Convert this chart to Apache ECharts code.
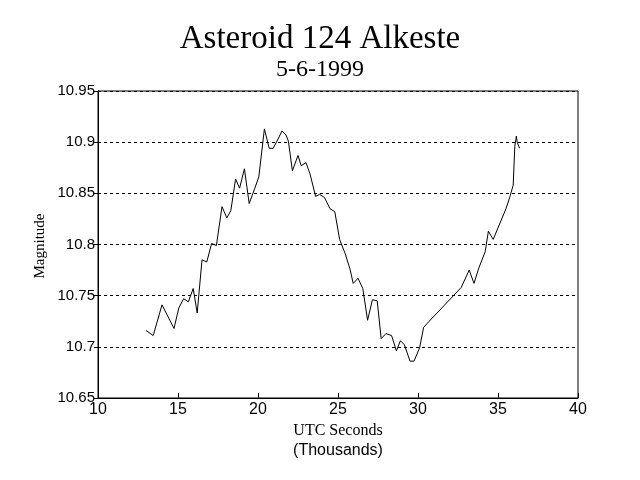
<!DOCTYPE html>
<html>
<head>
<meta charset="utf-8">
<script src="https://cdn.jsdelivr.net/npm/echarts@6/dist/echarts.min.js"></script>
<style>html,body{margin:0;padding:0;background:#fff}#c{width:640px;height:480px}</style>
</head>
<body>
<div id="c"></div>
<script>
const utcThousands = [13.0,13.45,14.0,14.75,15.05,15.35,15.65,15.95,16.2,16.5,16.8,17.1,17.4,17.75,18.05,18.3,18.6,18.85,19.15,19.45,19.8,20.05,20.4,20.7,20.95,21.25,21.5,21.75,21.9,22.15,22.5,22.7,23.0,23.25,23.6,23.85,24.15,24.5,24.8,25.1,25.45,25.75,25.95,26.25,26.55,26.85,27.15,27.45,27.7,28.0,28.35,28.65,28.9,29.15,29.5,29.75,30.1,30.35,30.7,32.7,33.2,33.5,33.8,34.2,34.4,34.7,35.5,35.75,35.95,36.05,36.15,36.2,36.35];
const magnitude = [10.716,10.711,10.741,10.718,10.738,10.747,10.744,10.757,10.733,10.785,10.783,10.801,10.799,10.837,10.826,10.833,10.864,10.855,10.874,10.840,10.855,10.866,10.913,10.894,10.894,10.903,10.911,10.907,10.901,10.872,10.887,10.877,10.880,10.869,10.847,10.849,10.846,10.835,10.832,10.805,10.791,10.776,10.762,10.767,10.757,10.726,10.746,10.745,10.708,10.713,10.711,10.696,10.706,10.702,10.686,10.686,10.699,10.719,10.725,10.758,10.775,10.762,10.777,10.793,10.813,10.805,10.835,10.847,10.858,10.896,10.906,10.900,10.894];
const titleText = 'Asteroid 124 Alkeste';
const subtitleText = '5-6-1999';
const xTitle1 = 'UTC Seconds';
const xTitle2 = '(Thousands)';
const yTitle = 'Magnitude';

const chart = echarts.init(document.getElementById('c'), null, {renderer: 'canvas'});
const pts = utcThousands.map((x, i) => [x, magnitude[i]]);
chart.setOption({
  backgroundColor: '#fff',
  animation: false,
  title: {
    text: titleText,
    subtext: subtitleText,
    left: 'center',
    top: 18,
    itemGap: 2,
    textStyle: {fontFamily: 'Liberation Serif', fontSize: 33, fontWeight: 'normal', color: '#000'},
    subtextStyle: {fontFamily: 'Liberation Serif', fontSize: 24, color: '#000'}
  },
  grid: {left: 98, right: 62, top: 91, bottom: 82, show: true, borderColor: '#000', borderWidth: 1, backgroundColor: 'transparent'},
  xAxis: {
    type: 'value', min: 10, max: 40, interval: 5,
    axisLine: {show: true, lineStyle: {color: '#000'}},
    axisTick: {show: true, inside: true, length: 5, lineStyle: {color: '#000'}},
    axisLabel: {color: '#000', fontFamily: 'Liberation Sans', fontSize: 16, margin: 4},
    splitLine: {show: false}
  },
  yAxis: {
    type: 'value', min: 10.65, max: 10.95, interval: 0.05,
    axisLine: {show: true, lineStyle: {color: '#000'}},
    axisTick: {show: true, inside: false, length: 4, lineStyle: {color: '#000'}},
    axisLabel: {color: '#000', fontFamily: 'Liberation Sans', fontSize: 15, margin: 3,
      formatter: v => String(parseFloat(v.toFixed(2)))},
    splitLine: {show: true, lineStyle: {color: '#000', type: [3, 3], width: 1}}
  },
  graphic: [
    {type: 'text', x: 338, y: 423, style: {text: xTitle1, font: '16px "Liberation Serif"', fill: '#000', textAlign: 'center'}},
    {type: 'text', x: 338, y: 443, style: {text: xTitle2, font: '16px "Liberation Sans"', fill: '#000', textAlign: 'center'}},
    {type: 'text', x: 40, y: 246, rotation: Math.PI / 2, style: {text: yTitle, font: '15px "Liberation Serif"', fill: '#000', textAlign: 'center', textVerticalAlign: 'middle'}}
  ],
  series: [{
    type: 'line', data: pts, showSymbol: false, symbol: 'none',
    lineStyle: {color: '#000', width: 1}
  }]
});
</script>
</body>
</html>
